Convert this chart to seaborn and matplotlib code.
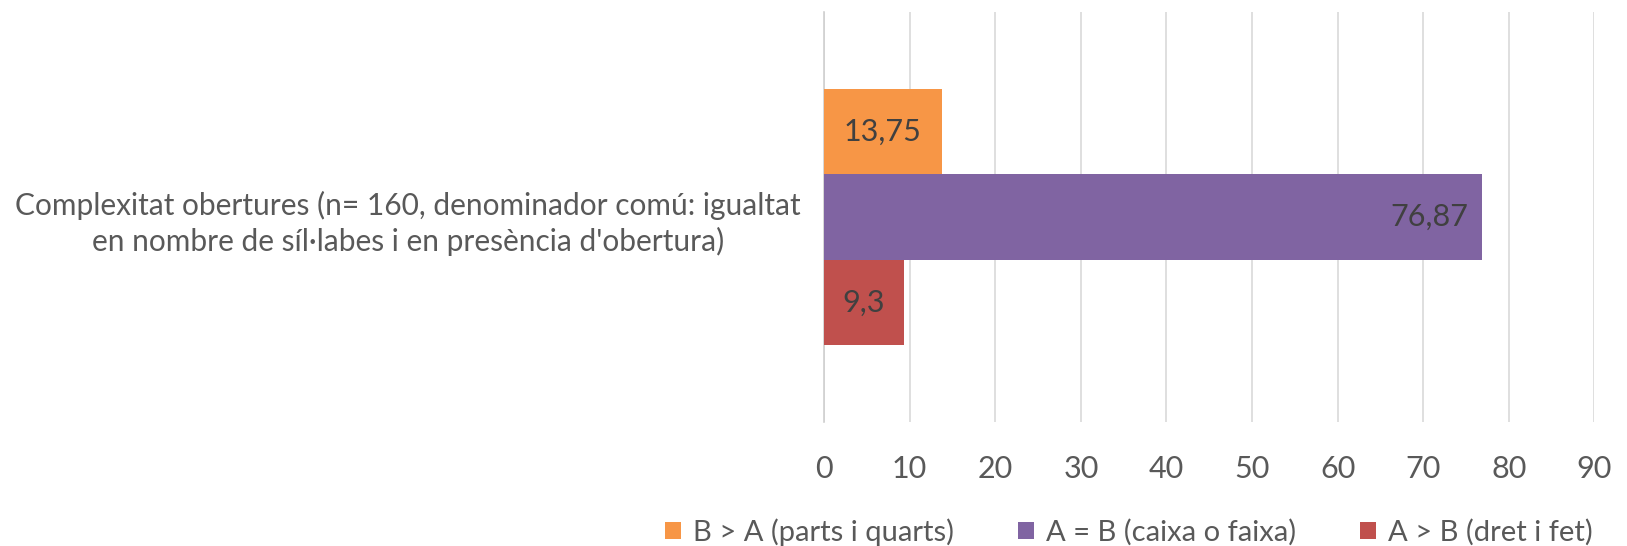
import pandas as pd
import matplotlib.pyplot as plt
import seaborn as sb

# dades del gràfic
categoria = "Complexitat obertures (n= 160, denominador comú: igualtat\nen nombre de síl·labes i en presència d'obertura)"
series = ["B > A (parts i quarts)", "A = B (caixa o faixa)", "A > B (dret i fet)"]
valors = [13.75, 76.87, 9.3]
etiquetes = ["13,75", "76,87", "9,3"]
colors = ["#F79646", "#8064A2", "#C0504D"]
ticks_x = [0, 10, 20, 30, 40, 50, 60, 70, 80, 90]

if __name__ == '__main__':
    df = pd.DataFrame({"cat": [categoria] * len(series),
                       "serie": series,
                       "valor": valors})

    sb.set_style("white")
    plt.rcParams['font.family'] = ['Lato', 'DejaVu Sans']
    text_color = "#595959"

    fig = plt.figure(figsize=(16.27, 5.46), dpi=100)
    ax = fig.add_axes([0.5065, 0.227, 0.4735, 0.751])

    sb.barplot(data=df, y="cat", x="valor", hue="serie", hue_order=series,
               palette=colors, orient="h", width=0.625, saturation=1,
               linewidth=0, ax=ax, zorder=3)

    ax.set_xlim(0, 90)
    ax.set_xticks(ticks_x)
    ax.grid(axis="x", color="#D9D9D9", linewidth=1.2, zorder=0)
    ax.set_axisbelow(True)
    for s in ["top", "right", "bottom"]:
        ax.spines[s].set_visible(False)
    ax.spines["left"].set_color("#D0D0D0")
    ax.spines["left"].set_linewidth(1.2)
    ax.spines["left"].set_zorder(2)
    ax.set_xlabel("")
    ax.set_ylabel("")
    ax.tick_params(axis="x", length=0, pad=24, labelsize=22, labelcolor=text_color)
    ax.tick_params(axis="y", length=0, pad=17, labelsize=21.5, labelcolor=text_color)
    for t in ax.get_yticklabels():
        t.set_multialignment("center")
        t.set_linespacing(1.3)

    # etiquetes de dades
    for cont, lab, v in zip(ax.containers, etiquetes, valors):
        if v > 50:
            ax.bar_label(cont, labels=[lab], label_type="edge", padding=-66,
                         fontsize=22, color="#404040")
        else:
            ax.bar_label(cont, labels=[lab], label_type="center",
                         fontsize=22, color="#404040")

    handles, labels = ax.get_legend_handles_labels()
    ax.get_legend().remove()
    fig.legend(handles, labels, loc="center", bbox_to_anchor=(1129 / 1627, 1 - 532 / 546),
               ncol=3, frameon=False, fontsize=21, labelcolor=text_color,
               handlelength=0.55, handleheight=0.55, handletextpad=0.4, columnspacing=2.2)

    plt.savefig("out.png", dpi=100)
